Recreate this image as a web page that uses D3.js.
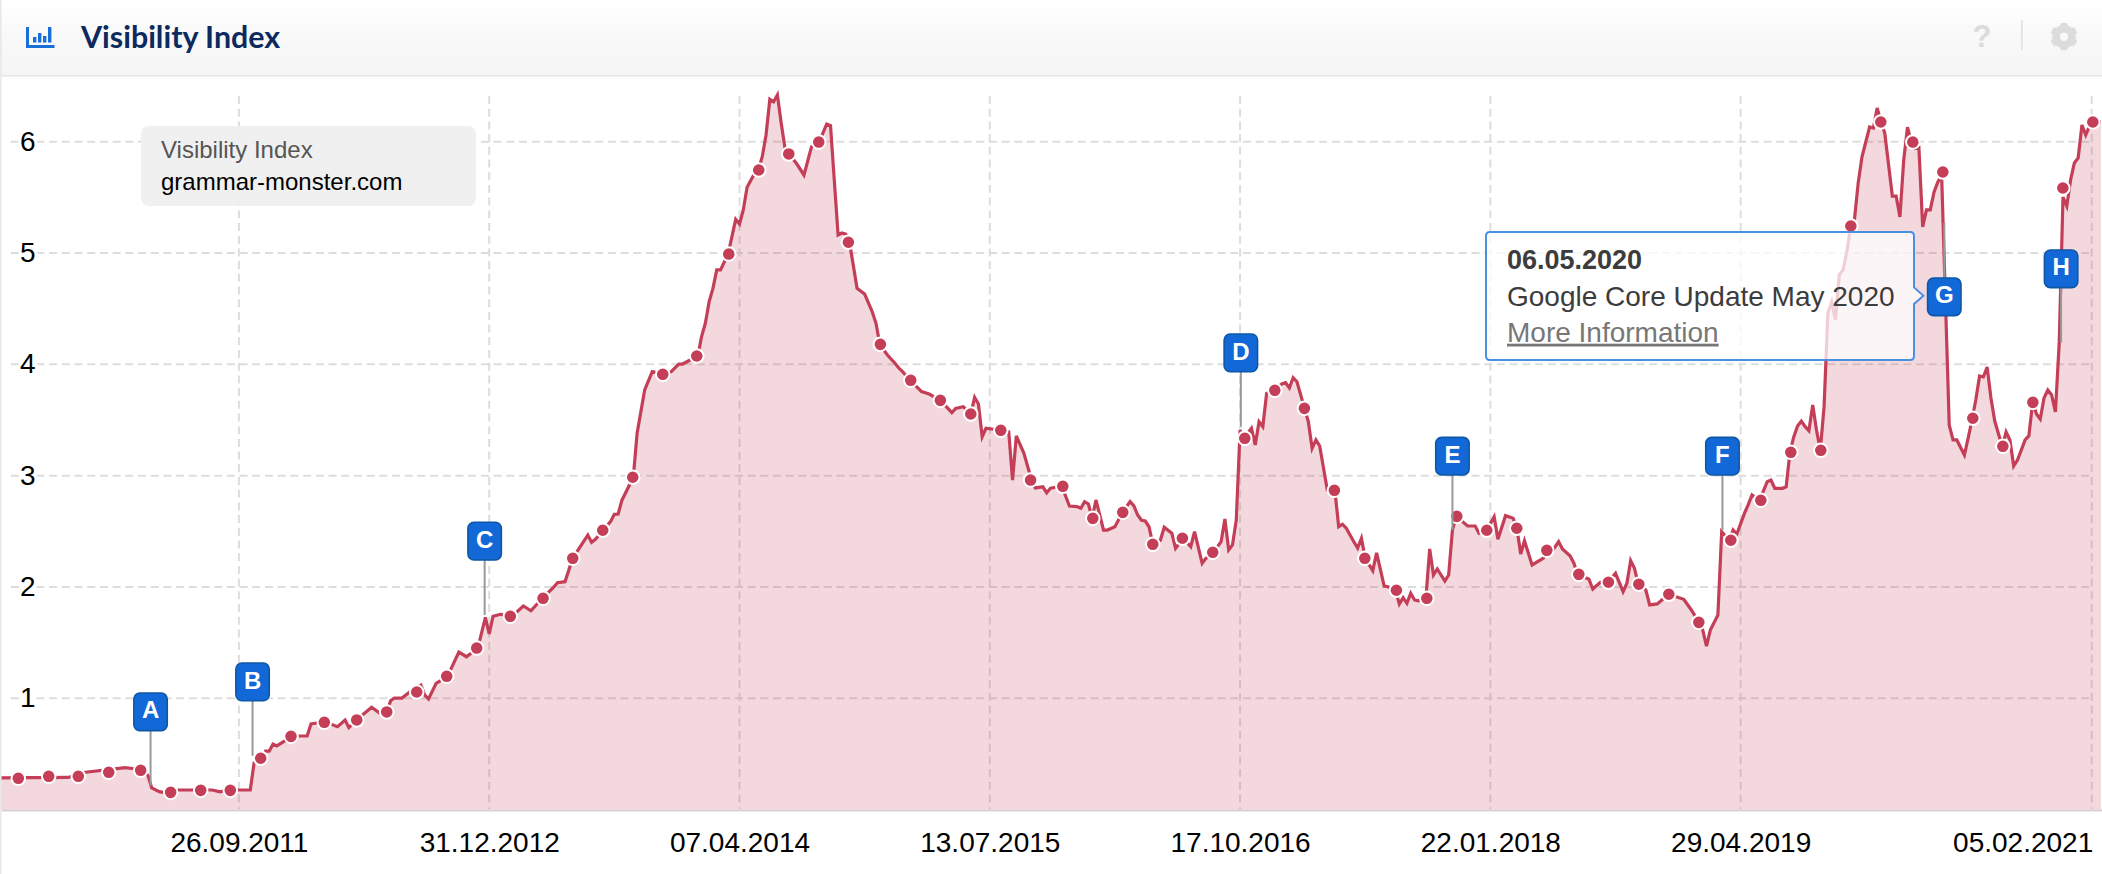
<!DOCTYPE html>
<html><head><meta charset="utf-8">
<script src="https://cdn.jsdelivr.net/npm/d3@7"></script>
<style>
html,body{margin:0;padding:0;background:#fff;overflow:hidden}
svg{display:block}
text{font-family:"Liberation Sans",Arial,sans-serif}
</style></head><body>
<svg id="c" width="2102" height="874"></svg>
<script>
const title = "Visibility Index";
const seriesName = "Visibility Index";
const domainName = "grammar-monster.com";
const startDate = "2010-07-12";
const endDate = "2021-02-24";
const tickDates = ["2011-09-26","2012-12-31","2014-04-07","2015-07-13","2016-10-17","2018-01-22","2019-04-29","2021-02-05"];
const yTicks = [0,1,2,3,4,5,6];
// weeks since startDate
const lineWeeks = [0,18,22,33,36,37,39,40,42,44,47,56,58,60,66,67,69,70,71,72,73,77,79,81,82,84,86,89,91,92,94,98,100,102,103,104,106,108,111,112,113,115,118,121,123,126,128,129,130,132,135,138,140,143,146,147,149,151,155,156,157,159,161,162,163,164,167,
168,170,172,175,177,179,180,184,185,186,187,188,189,190,192,194,195,196,197,199,200,201,202,203,204,205,206,207,208,210,212,214,216,218,219,221,222,223,224,226,228,230,231,232,234,236,237,238,240,243,245,248,251,252,254,256,257,258,259,260,264,266,267,268,270,272,
273,275,276,277,280,282,284,285,286,287,288,289,290,291,292,294,296,298,299,300,301,302,303,304,306,307,309,310,312,314,315,317,318,320,322,323,324,325,326,327,328,330,331,332,333,334,336,338,339,340,341,342,344,345,346,347,348,350,352,353,354,355,357,358,359,360,362,363,365,366,368,369,370,371,372,373,374,376,377,378,379,381,382,383,384,
387,389,390,392,394,395,397,399,400,401,402,404,407,408,409,411,412,414,415,416,419,420,422,424,426,428,429,430,431,432,434,435,437,440,444,446,448,449,450,451,453,454,456,457,458,460,461,462,464,466,467,468,470,471,472,
473,474,475,476,477,478,479,480,481,482,483,484,485,486,487,488,489,490,491,493,494,495,496,497,499,500,501,502,503,504,505,506,507,508,509,510,511,512,513,514,515,516,518,519,520,521,522,523,524,525,526,527,528,529,530,531,532,533,534,535,536,537,538,539,540,541,542,543,544,545,546,547,548,549,550,551,552,554];
const lineValues = [.285,.29,.334,.377,.366,.354,.31,.195,.162,.15,.177,.177,.16,.177,.177,.42,.473,.527,.527,.59,.573,.659,.662,.662,.77,.781,.785,.746,.806,.737,.806,.92,.871,.878,.979,1.003,1.003,1.057,1.12,1.03,.994,1.135,1.198,1.416,1.374,1.452,1.728,1.578,1.737,1.755,1.737,1.83,1.787,1.899,1.998,2.039,2.048,2.258,2.467,2.402,2.429,2.51,2.587,2.653,2.656,2.78,2.986,
3.381,3.77,3.934,3.911,3.934,4.003,4.003,4.075,4.249,4.369,4.563,4.683,4.848,4.848,4.991,5.303,5.261,5.387,5.59,5.716,5.746,5.865,6.06,6.381,6.359,6.42,6.165,5.941,5.89,5.806,5.701,5.955,5.997,6.159,6.144,5.162,5.18,5.17,5.10,4.683,4.632,4.473,4.369,4.18,4.084,4.01,3.967,3.934,3.857,3.755,3.734,3.677,3.566,3.605,3.62,3.554,3.704,3.644,3.35,3.426,3.408,3.395,2.961,3.357,3.201,2.961,
2.89,2.90,2.847,2.887,2.905,2.728,2.722,2.707,2.767,2.746,2.617,2.782,2.647,2.512,2.512,2.542,2.671,2.767,2.728,2.647,2.60,2.593,2.54,2.384,2.422,2.537,2.483,2.348,2.438,2.362,2.497,2.213,2.258,2.312,2.407,2.611,2.333,2.378,2.602,3.41,3.336,3.426,3.276,3.485,3.44,3.74,3.767,3.824,3.835,3.788,3.88,3.844,3.605,3.485,3.246,3.321,3.267,2.872,2.869,2.542,2.564,2.528,2.407,2.35,2.438,2.258,2.147,2.308,2.009,2.003,1.971,1.848,1.904,1.854,1.944,1.884,1.877,1.899,2.342,2.108,2.162,2.054,2.108,2.512,2.635,
2.548,2.548,2.483,2.51,2.632,2.429,2.641,2.617,2.528,2.297,2.416,2.198,2.26,2.33,2.306,2.407,2.342,2.281,2.216,2.114,2.07,1.982,2.043,2.043,2.123,1.958,2.034,2.237,2.168,2.025,1.973,1.839,1.848,1.935,1.89,1.794,1.683,1.614,1.47,1.614,1.749,2.497,2.42,2.512,2.476,2.662,2.74,2.827,2.779,2.946,2.961,2.887,2.887,2.90,3.21,
3.348,3.447,3.49,3.44,3.404,3.635,3.41,3.228,3.62,4.461,4.56,4.40,4.803,4.848,5.01,5.243,5.297,5.63,5.865,6.132,6.123,6.303,6.177,6.078,5.512,5.512,5.324,5.836,6.13,5.997,5.94,5.95,5.234,5.387,5.387,5.548,5.638,5.70,4.578,3.455,3.321,3.321,3.186,3.34,3.50,3.68,3.896,3.887,3.976,3.698,3.491,3.375,3.264,3.393,3.321,3.087,3.141,3.23,3.321,3.357,3.659,3.554,3.509,3.698,3.77,3.725,3.572,4.19,5.503,5.422,5.656,5.809,5.854,6.15,6.06,6.141,6.177,6.177];
const dotWeeks = [4.83,12.84,20.65,28.67,37.1,45.0,52.93,60.73,68.75,76.74,85.52,94.07,101.98,109.89,117.8,125.71,134.57,143.2,151.03,158.94,166.85,174.76,183.73,192.17,200.08,207.99,215.9,223.71,232.15,240.16,247.97,255.99,263.9,271.76,280.25,288.16,296.07,303.98,311.79,319.8,328.24,336.16,343.96,351.87,359.89,368.22,376.24,384.15,392.06,399.97,407.89,416.32,424.13,432.15,440.06,447.97,456.41,464.32,472.23,480.14,488.05,495.96,504.4,512.31,520.22,528.14,536.05,543.96,551.87];
const dotValues = [.282,.30,.30,.336,.354,.156,.174,.174,.462,.659,.785,.806,.878,1.057,1.198,1.452,1.737,1.899,2.258,2.51,2.986,3.911,4.075,4.991,5.746,5.89,5.997,5.097,4.18,3.857,3.677,3.554,3.408,2.961,2.905,2.617,2.671,2.384,2.438,2.312,3.336,3.767,3.605,2.869,2.258,1.971,1.899,2.635,2.51,2.528,2.33,2.114,2.043,2.025,1.935,1.683,2.42,2.779,3.21,3.228,5.243,6.177,5.997,5.728,3.516,3.264,3.659,5.584,6.177];
const flagLetters = ["A","B","C","D","E","F","G","H"];
const flagWeeks = [39.7,66.6,127.8,327.2,383,454.2,512.7,543.5];
const flagValues = [.216,.485,1.749,3.44,2.512,2.512,5.27,4.195];
const flagsBelow = [false,false,false,false,false,false,true,false];
const tipDate = "06.05.2020";
const tipText = "Google Core Update May 2020";
const tipLink = "More Information";

const svg = d3.select("#c");
const parse = d3.utcParse("%Y-%m-%d");
const t0 = parse(startDate);
const wk = w => new Date(+t0 + w*7*864e5);
const x = d3.scaleUtc().domain([t0, parse(endDate)]).range([0,2102]);
const y = d3.scaleLinear().domain([0,6]).range([809.7,141.7]);
const fmt = d3.utcFormat("%d.%m.%Y");

const defs = svg.append("defs");
const g1 = defs.append("linearGradient").attr("id","hdr").attr("x1",0).attr("x2",0).attr("y1",0).attr("y2",1);
g1.append("stop").attr("offset",0).attr("stop-color","#ffffff");
g1.append("stop").attr("offset",.45).attr("stop-color","#f9f9f9");
g1.append("stop").attr("offset",1).attr("stop-color","#f5f5f5");

// grid
const gy = svg.append("g").attr("class","grid");
gy.selectAll("line").data(yTicks.filter(d=>d>0)).join("line")
  .attr("x1",11).attr("x2",2093).attr("y1",d=>y(d)).attr("y2",d=>y(d))
  .attr("stroke","#dddddd").attr("stroke-width",2).attr("stroke-dasharray","8 4.7");
const gx = svg.append("g").attr("class","grid");
gx.selectAll("line").data(tickDates.map(parse)).join("line")
  .attr("x1",d=>x(d)).attr("x2",d=>x(d)).attr("y1",96).attr("y2",809)
  .attr("stroke","#dddddd").attr("stroke-width",2).attr("stroke-dasharray","8 4.7");

// area, line
const pts = lineWeeks.map((w,i)=>({d:wk(w),v:lineValues[i]}));
svg.append("path").datum(pts).attr("fill","#c43c55").attr("fill-opacity",.2)
  .attr("d",d3.area().x(d=>x(d.d)).y0(y(0)).y1(d=>y(d.v)));
svg.append("line").attr("x1",2).attr("x2",2102).attr("y1",810.5).attr("y2",810.5).attr("stroke","#d9d0d2").attr("stroke-width",2);
svg.append("path").datum(pts).attr("fill","none").attr("stroke","#c43e58").attr("stroke-width",3.2).attr("stroke-linejoin","miter").attr("stroke-miterlimit",4)
  .attr("d",d3.line().x(d=>x(d.d)).y(d=>y(d.v)));

// dots
svg.append("g").selectAll("circle").data(dotWeeks).join("circle")
  .attr("cx",d=>x(wk(d))).attr("cy",(d,i)=>y(dotValues[i])).attr("r",6.8)
  .attr("fill","#c43e58").attr("stroke","#fff").attr("stroke-width",2);

// axes
const ax = d3.axisBottom(x).tickValues(tickDates.map(parse)).tickSize(0).tickPadding(0).tickFormat(fmt);
const axg = svg.append("g").attr("transform","translate(0,852)").call(ax);
axg.select(".domain").remove();
axg.selectAll("text").attr("y",0).attr("dy",0).attr("fill","#000").style("font-size","28px");
axg.selectAll(".tick").filter((d,i)=>i===tickDates.length-1).select("text").attr("text-anchor","end").attr("x",1);
const ay = d3.axisLeft(y).tickValues(yTicks.filter(d=>d>0)).tickSize(0).tickPadding(0).tickFormat(d3.format("d"));
const ayg = svg.append("g").attr("transform","translate(35.5,0)").call(ay);
ayg.select(".domain").remove();
ayg.selectAll("text").attr("dy",8.5).attr("x",0).attr("fill","#000").style("font-size","28px")
  .attr("stroke","#fff").attr("stroke-width",6).attr("paint-order","stroke");

// legend box
svg.append("rect").attr("x",141).attr("y",126).attr("width",335).attr("height",80).attr("rx",8).attr("fill","#efefef").attr("fill-opacity",.92);
svg.append("text").attr("x",161).attr("y",158).attr("fill","#555").style("font-size","24px").text(seriesName);
svg.append("text").attr("x",161).attr("y",190).attr("fill","#000").style("font-size","24px").text(domainName);

// header
svg.append("rect").attr("x",0).attr("y",0).attr("width",2102).attr("height",75).attr("fill","url(#hdr)");
svg.append("rect").attr("x",0).attr("y",75).attr("width",2102).attr("height",1.6).attr("fill","#e6e6e6");
svg.append("rect").attr("x",0).attr("y",0).attr("width",1.6).attr("height",874).attr("fill","#e8e8e8");
svg.append("text").attr("x",81).attr("y",48).attr("fill","#0c2a5e").style("font-family","Lato").style("font-weight",700).style("font-size","30.4px").text(title);
const ic = svg.append("g").attr("fill","#1a6fd6");
ic.append("rect").attr("x",26).attr("y",27).attr("width",3).attr("height",21);
ic.append("rect").attr("x",26).attr("y",45).attr("width",28.5).attr("height",3);
[[33,37,3.4],[38,33,3.4],[43,36,3.4],[48,27,3.4]].forEach(r=>ic.append("rect").attr("x",r[0]).attr("y",r[1]).attr("width",r[2]).attr("height",42.5-r[1]));
svg.append("text").attr("x",1982).attr("y",47).attr("text-anchor","middle").attr("fill","#dcdcdc").style("font-weight",700).style("font-size","31px").text("?");
svg.append("rect").attr("x",2021).attr("y",20).attr("width",1.6).attr("height",30).attr("fill","#e0e0e0");
const gear = svg.append("g").attr("transform","translate(2064,36.7)");
gear.append("circle").attr("r",8).attr("fill","none").attr("stroke","#dcdcdc").attr("stroke-width",7.6);
d3.range(6).forEach(i=>gear.append("rect").attr("x",-3.4).attr("y",-13.6).attr("width",6.8).attr("height",6).attr("rx",1).attr("fill","#dcdcdc").attr("transform",`rotate(${i*60})`));

// flags
const H = 37.7, W = 33.4, S = 55;
const fl = svg.append("g").selectAll("g").data(flagLetters).join("g");
fl.each(function(l,i){
  const g = d3.select(this), fx = x(wk(flagWeeks[i])), fy = y(flagValues[i]);
  const below = flagsBelow[i];
  const top = below ? fy + S : fy - S - H;
  g.append("line").attr("x1",fx).attr("x2",fx).attr("y1",fy).attr("y2",below?fy+S:fy-S).attr("stroke","#999").attr("stroke-width",2);
  g.append("rect").attr("x",fx-W/2).attr("y",top).attr("width",W).attr("height",H).attr("rx",6).attr("fill","#1268d6").attr("stroke","#0e57a6").attr("stroke-width",1.6);
  g.append("text").attr("x",fx).attr("y",top+25.5).attr("text-anchor","middle").attr("fill","#fff").style("font-weight",700).style("font-size","24px").text(l);
});

// tooltip
const tipPath = "M1490,232 H1910 Q1914,232 1914,236 V287.4 L1923.4,295.7 L1914,304 V356 Q1914,360 1910,360 H1490 Q1486,360 1486,356 V236 Q1486,232 1490,232 Z";
svg.append("path").attr("d",tipPath).attr("fill","#fff").attr("fill-opacity",.75).attr("stroke","#4a90e2").attr("stroke-width",2);
svg.append("text").attr("x",1507).attr("y",269.3).attr("fill","#3c3c3c").style("font-weight",700).style("font-size","27px").text(tipDate);
svg.append("text").attr("x",1507).attr("y",305.7).attr("fill","#3c3c3c").style("font-size","28px").text(tipText);
svg.append("text").attr("x",1507).attr("y",341.7).attr("fill","#777").attr("text-decoration","underline").style("font-size","28px").text(tipLink);
</script>
</body></html>
